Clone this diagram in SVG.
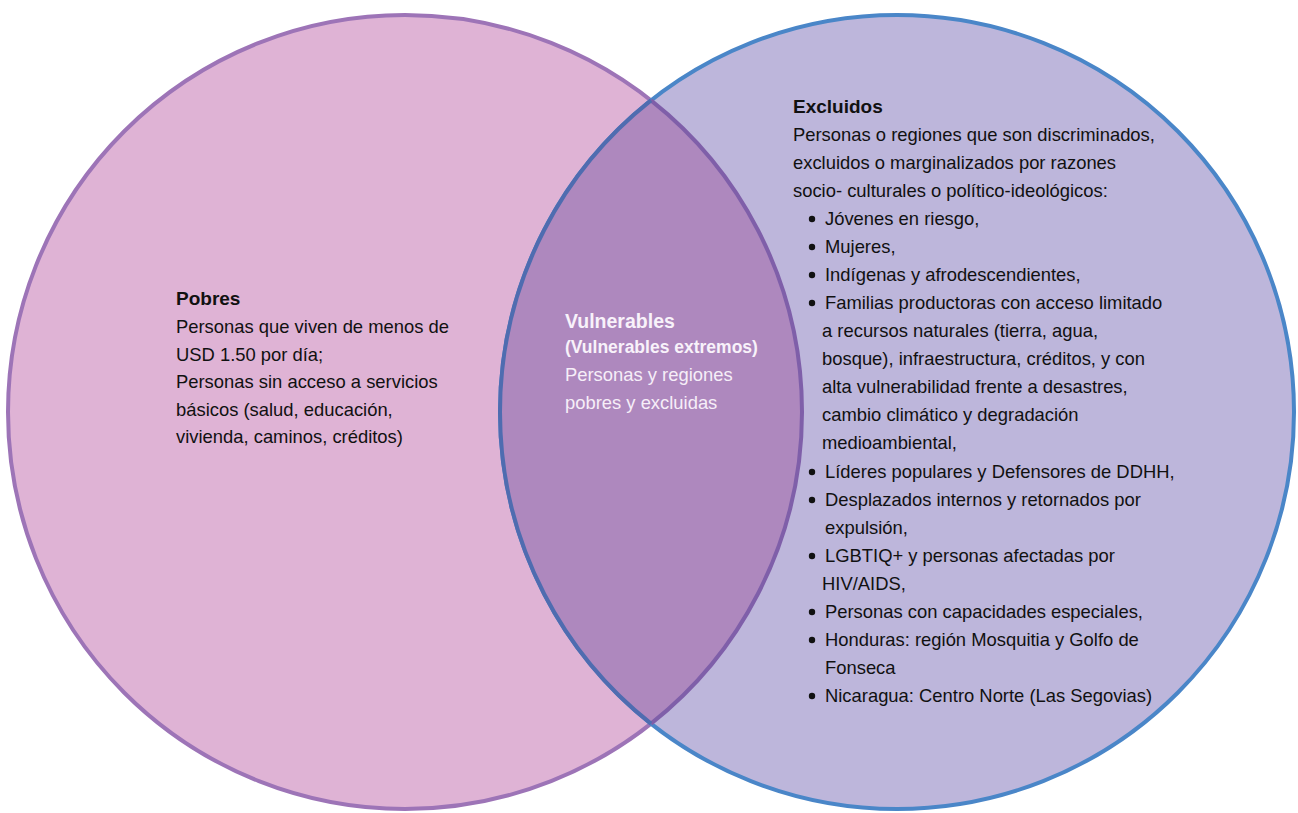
<svg xmlns="http://www.w3.org/2000/svg" width="1298" height="813" viewBox="0 0 1298 813">
  <style>
    text { font-family: "Liberation Sans", Arial, sans-serif; font-size: 18.4px; fill: #111111; }
    .b { font-weight: bold; font-size: 19px; }
    .w { fill: #f6eef8; }
    .wb { fill: #f8f2fa; font-weight: bold; }
    .dot { fill: #111111; }
  </style>
  <rect width="1298" height="813" fill="#ffffff"/>
  <g id="pobres">
    <circle cx="405" cy="412" r="397" fill="#dfb3d5" stroke="#9d74b7" stroke-width="4"/>
  </g>
  <g id="excluidos">
    <circle cx="897" cy="412" r="397" fill="#bdb6db" stroke="#4a86c8" stroke-width="4"/>
  </g>
  <g id="vulnerables">
    <path d="M651,100.4 A397,397 0 0 1 651,723.6 A397,397 0 0 1 651,100.4 Z" fill="#ae88be"/>
    <path d="M651,100.4 A397,397 0 0 1 651,723.6" fill="none" stroke="#7f5fa9" stroke-width="4"/>
    <path d="M651,723.6 A397,397 0 0 1 651,100.4" fill="none" stroke="#4f6cb0" stroke-width="4"/>
  </g>
  <g id="pobres-text">
    <text x="176" y="305" class="b">Pobres</text>
    <text x="176" y="333">Personas que viven de menos de</text>
    <text x="176" y="360.5">USD 1.50 por día;</text>
    <text x="176" y="388">Personas sin acceso a servicios</text>
    <text x="176" y="415.5">básicos (salud, educación,</text>
    <text x="176" y="443">vivienda, caminos, créditos)</text>
  </g>
  <g id="vulnerables-text">
    <text x="565" y="328" class="b wb" style="font-size:19.5px">Vulnerables</text>
    <text x="565" y="353" class="wb" style="font-size:17.5px">(Vulnerables extremos)</text>
    <text x="565" y="381" class="w">Personas y regiones</text>
    <text x="565" y="408.5" class="w">pobres y excluidas</text>
  </g>
  <g id="excluidos-text">
    <text x="793" y="113" class="b">Excluidos</text>
    <text x="793" y="141">Personas o regiones que son discriminados,</text>
    <text x="793" y="169">excluidos o marginalizados por razones</text>
    <text x="793" y="197">socio- culturales o político-ideológicos:</text>
    <circle class="dot" cx="812" cy="219" r="3.2"/><text x="825" y="225">Jóvenes en riesgo,</text>
    <circle class="dot" cx="812" cy="247" r="3.2"/><text x="825" y="253">Mujeres,</text>
    <circle class="dot" cx="812" cy="275" r="3.2"/><text x="825" y="281">Indígenas y afrodescendientes,</text>
    <circle class="dot" cx="812" cy="303" r="3.2"/><text x="825" y="309">Familias productoras con acceso limitado</text>
    <text x="822" y="337">a recursos naturales (tierra, agua,</text>
    <text x="822" y="365">bosque), infraestructura, créditos, y con</text>
    <text x="822" y="393">alta vulnerabilidad frente a desastres,</text>
    <text x="822" y="421">cambio climático y degradación</text>
    <text x="822" y="449">medioambiental,</text>
    <circle class="dot" cx="812" cy="472" r="3.2"/><text x="825" y="478">Líderes populares y Defensores de DDHH,</text>
    <circle class="dot" cx="812" cy="500" r="3.2"/><text x="825" y="506">Desplazados internos y retornados por</text>
    <text x="825" y="534">expulsión,</text>
    <circle class="dot" cx="812" cy="556" r="3.2"/><text x="825" y="562">LGBTIQ+ y personas afectadas por</text>
    <text x="822" y="590">HIV/AIDS,</text>
    <circle class="dot" cx="812" cy="612" r="3.2"/><text x="825" y="618">Personas con capacidades especiales,</text>
    <circle class="dot" cx="812" cy="640" r="3.2"/><text x="825" y="646">Honduras: región Mosquitia y Golfo de</text>
    <text x="825" y="674">Fonseca</text>
    <circle class="dot" cx="812" cy="696" r="3.2"/><text x="825" y="702">Nicaragua: Centro Norte (Las Segovias)</text>
  </g>
</svg>
